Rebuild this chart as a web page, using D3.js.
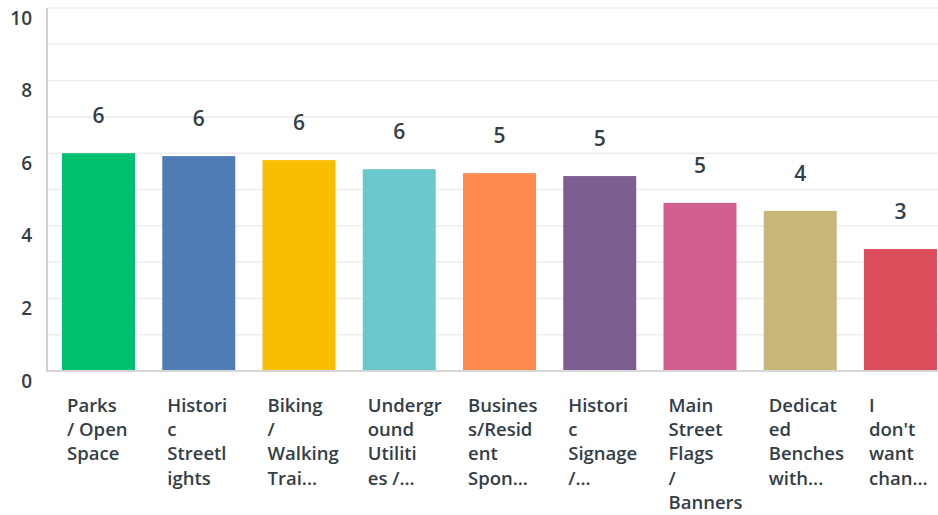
<!DOCTYPE html>
<html>
<head>
<meta charset="utf-8">
<script src="https://cdn.jsdelivr.net/npm/d3@7"></script>
<style>
  html, body { margin: 0; padding: 0; background: #fff; }
  svg { display: block; font-family: "Open Sans", sans-serif; }
</style>
</head>
<body>
<svg id="chart"></svg>
<script>
// category labels, already wrapped as the original shows them
const categoryLines = [
  ['Parks', '/ Open', 'Space'],
  ['Histori', 'c', 'Streetl', 'ights'],
  ['Biking', '/', 'Walking', 'Trai...'],
  ['Undergr', 'ound', 'Utiliti', 'es /...'],
  ['Busines', 's/Resid', 'ent', 'Spon...'],
  ['Histori', 'c', 'Signage', '/...'],
  ['Main', 'Street', 'Flags', '/', 'Banners'],
  ['Dedicat', 'ed', 'Benches', 'with...'],
  ['I', "don't", 'want', 'chan...']
];
const scores = [6.0, 5.92, 5.81, 5.56, 5.45, 5.37, 4.63, 4.41, 3.36];
const barColors = ['#00bf6f', '#507cb6', '#f9be00', '#6bc8cd', '#ff8b4f',
                   '#7d5e90', '#d25f90', '#c7b879', '#dc4d5b'];
const yTicks = [0, 2, 4, 6, 8, 10];

const width = 938, height = 515;
const x0 = 47, yBase = 371, yTop = 8;
const ink = '#333e48';

const svg = d3.select('#chart')
  .attr('width', width)
  .attr('height', height);

const idx = d3.range(scores.length);

const x = d3.scaleBand()
  .domain(idx)
  .range([x0, 952])
  .paddingInner(0.272)
  .paddingOuter(0.15);

const y = d3.scaleLinear()
  .domain([0, 10])
  .range([yBase, yTop]);

// grid lines, one per unit
svg.append('g')
  .selectAll('line')
  .data(d3.range(1, 11))
  .enter().append('line')
  .attr('x1', x0)
  .attr('x2', width)
  .attr('y1', d => y(d))
  .attr('y2', d => y(d))
  .attr('stroke', '#ededed')
  .attr('stroke-width', 1.5);

// bars
svg.append('g')
  .selectAll('rect')
  .data(idx)
  .enter().append('rect')
  .attr('x', i => x(i))
  .attr('width', x.bandwidth())
  .attr('y', i => y(scores[i]))
  .attr('height', i => yBase - y(scores[i]))
  .attr('fill', i => barColors[i]);

// axis lines
svg.append('line')
  .attr('x1', x0).attr('x2', x0)
  .attr('y1', yTop).attr('y2', yBase + 1)
  .attr('stroke', '#d0d0d0')
  .attr('stroke-width', 2);

svg.append('line')
  .attr('x1', x0).attr('x2', width)
  .attr('y1', yBase).attr('y2', yBase)
  .attr('stroke', '#d6d6d6')
  .attr('stroke-width', 2);

// y tick labels, sitting a little below their grid line
svg.append('g')
  .selectAll('text')
  .data(yTicks)
  .enter().append('text')
  .attr('x', 32)
  .attr('y', d => y(d) + 9.5)
  .attr('text-anchor', 'end')
  .attr('dominant-baseline', 'central')
  .style('font-size', '19px')
  .style('font-weight', 600)
  .style('fill', ink)
  .text(d => d);

// value labels above bars
svg.append('g')
  .selectAll('text')
  .data(idx)
  .enter().append('text')
  .attr('x', i => x(i) + x.bandwidth() / 2)
  .attr('y', i => y(scores[i]) - 38)
  .attr('text-anchor', 'middle')
  .attr('dominant-baseline', 'central')
  .style('font-size', '21px')
  .style('font-weight', 600)
  .style('fill', ink)
  .text(i => Math.round(scores[i]));

// category labels
const cat = svg.append('g')
  .selectAll('text')
  .data(idx)
  .enter().append('text')
  .attr('x', i => x(i) + 5)
  .attr('y', 403.5)
  .attr('dominant-baseline', 'central')
  .style('font-size', '18.5px')
  .style('font-weight', 600)
  .style('fill', ink);

cat.selectAll('tspan')
  .data(i => categoryLines[i].map(t => ({ t, i })))
  .enter().append('tspan')
  .attr('x', d => x(d.i) + 5)
  .attr('dy', (d, k) => k === 0 ? 0 : 24.4)
  .text(d => d.t);
</script>
</body>
</html>
